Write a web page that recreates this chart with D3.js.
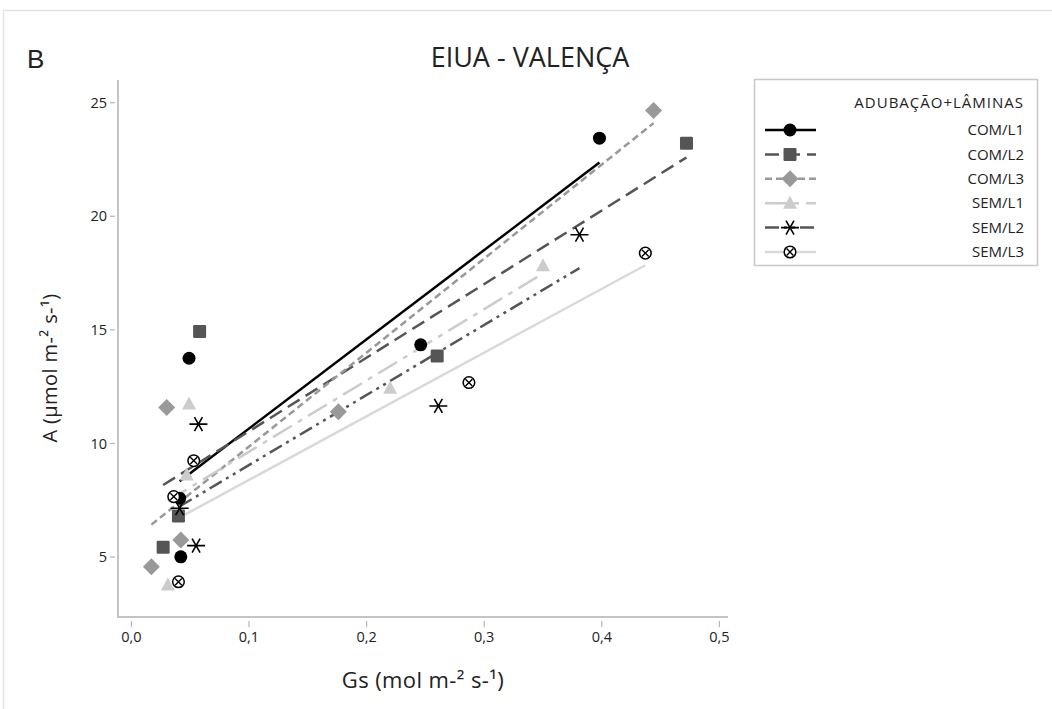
<!DOCTYPE html>
<html lang="pt">
<head>
<meta charset="utf-8">
<title>EIUA - VALENÇA</title>
<style>
body { margin: 0; background: #fff; }
text { font-family: "Open Sans", "Noto Sans", sans-serif; fill: #222; }
</style>
<script src="https://cdn.jsdelivr.net/npm/d3@7"></script>
</head>
<body>
<div id="chart"></div>
<script>
// Gs (x) and A (y) per treatment
var seriesNames = ["COM/L1", "COM/L2", "COM/L3", "SEM/L1", "SEM/L2", "SEM/L3"];

var gs_com_l1 = [0.049, 0.041, 0.042, 0.246, 0.398];
var a_com_l1  = [13.75, 7.59, 5.01, 14.34, 23.44];

var gs_com_l2 = [0.058, 0.040, 0.027, 0.260, 0.472];
var a_com_l2  = [14.93, 6.81, 5.43, 13.85, 23.22];

var gs_com_l3 = [0.030, 0.042, 0.017, 0.176, 0.444];
var a_com_l3  = [11.58, 5.75, 4.57, 11.40, 24.66];

var gs_sem_l1 = [0.049, 0.047, 0.031, 0.220, 0.350];
var a_sem_l1  = [11.74, 8.61, 3.77, 12.43, 17.82];

var gs_sem_l2 = [0.057, 0.041, 0.055, 0.261, 0.381];
var a_sem_l2  = [10.85, 7.15, 5.50, 11.65, 19.19];

var gs_sem_l3 = [0.053, 0.036, 0.040, 0.287, 0.437];
var a_sem_l3  = [9.24, 7.66, 3.91, 12.68, 18.38];

var xTicks = [0, 0.1, 0.2, 0.3, 0.4, 0.5];
var yTicks = [5, 10, 15, 20, 25];

// styles per series (same order as seriesNames)
var lineColors  = ["#000", "#555", "#999", "#ccc", "#555", "#d9d9d9"];
var markColors  = ["#000", "#555", "#999", "#ccc", "#000", "#000"];
var dashes      = [null, "14,7", "7,4", "22,7,5,7", "14,5,3,5,3,5", null];
var shapes      = ["circle", "square", "diamond", "triangle", "asterisk", "circlex"];

var series = seriesNames.map(function(name, i) {
    var gs = [gs_com_l1, gs_com_l2, gs_com_l3, gs_sem_l1, gs_sem_l2, gs_sem_l3][i];
    var a  = [a_com_l1, a_com_l2, a_com_l3, a_sem_l1, a_sem_l2, a_sem_l3][i];
    return {
        name: name, idx: i,
        points: gs.map(function(g, j) { return { x: g, y: a[j] }; })
    };
});

// least squares fit, drawn over the x range of each group
function fitLine(pts) {
    var mx = d3.mean(pts, function(p) { return p.x; }),
        my = d3.mean(pts, function(p) { return p.y; });
    var sxy = d3.sum(pts, function(p) { return (p.x - mx) * (p.y - my); }),
        sxx = d3.sum(pts, function(p) { return (p.x - mx) * (p.x - mx); });
    var b = sxy / sxx, a0 = my - b * mx;
    var x0 = d3.min(pts, function(p) { return p.x; }),
        x1 = d3.max(pts, function(p) { return p.x; });
    return [{ x: x0, y: a0 + b * x0 }, { x: x1, y: a0 + b * x1 }];
}

var width = 1052, height = 709;
var svg = d3.select("#chart").append("svg")
    .attr("width", width)
    .attr("height", height);

// outer frame
svg.append("rect")
    .attr("x", 3.5).attr("y", 10.5)
    .attr("width", 1060).attr("height", 720)
    .style("fill", "none").style("stroke", "#e3e3e3").style("stroke-width", 1.5);

var x = d3.scaleLinear().domain([-0.0114, 0.5073]).range([118, 728]);
var y = d3.scaleLinear().domain([2.36, 26.0]).range([617, 80]);

var comma = d3.formatLocale({ decimal: ",", thousands: ".", grouping: [3], currency: ["", ""] });
var fmtX = comma.format(".1f");

// axis lines
svg.append("line")
    .attr("x1", 118).attr("y1", 80).attr("x2", 118).attr("y2", 617)
    .style("stroke", "#c4c4c4").style("stroke-width", 2);
svg.append("line")
    .attr("x1", 117).attr("y1", 617).attr("x2", 728).attr("y2", 617)
    .style("stroke", "#c4c4c4").style("stroke-width", 2);

// y ticks
var yg = svg.append("g");
yg.selectAll("line").data(yTicks).enter().append("line")
    .attr("x1", 110).attr("x2", 115)
    .attr("y1", function(d) { return y(d); })
    .attr("y2", function(d) { return y(d); })
    .style("stroke", "#b5b5b5").style("stroke-width", 1.2);
yg.selectAll("text").data(yTicks).enter().append("text")
    .attr("x", 107)
    .attr("y", function(d) { return y(d); })
    .attr("dy", "0.35em")
    .attr("text-anchor", "end")
    .style("font-size", "14.5px")
    .text(function(d) { return d; });

// x ticks
var xg = svg.append("g");
xg.selectAll("line").data(xTicks).enter().append("line")
    .attr("x1", function(d) { return x(d); })
    .attr("x2", function(d) { return x(d); })
    .attr("y1", 621).attr("y2", 627)
    .style("stroke", "#b5b5b5").style("stroke-width", 1.2);
xg.selectAll("text").data(xTicks).enter().append("text")
    .attr("x", function(d) { return x(d); })
    .attr("y", 642)
    .attr("text-anchor", "middle")
    .style("font-size", "14.5px")
    .text(function(d) { return fmtX(d); });

// axis titles
svg.append("text")
    .attr("x", 423).attr("y", 688)
    .attr("text-anchor", "middle")
    .style("font-size", "22px")
    .style("letter-spacing", "0.4px")
    .text("Gs (mol m-² s-¹)");
svg.append("text")
    .attr("transform", "translate(57,368) rotate(-90)")
    .attr("text-anchor", "middle")
    .style("font-size", "20px")
    .style("letter-spacing", "0.4px")
    .text("A (µmol m-² s-¹)");

// chart title and panel letter
svg.append("text")
    .attr("x", 530).attr("y", 67)
    .attr("text-anchor", "middle")
    .style("font-size", "27px")
    .text("EIUA - VALENÇA");
svg.append("text")
    .attr("x", 27).attr("y", 68)
    .style("font-family", "Liberation Sans, Arial, sans-serif")
    .style("font-size", "26px")
    .text("B");

// fit lines
var lineGen = d3.line()
    .x(function(d) { return x(d.x); })
    .y(function(d) { return y(d.y); });

svg.append("g").selectAll("path")
    .data(series).enter().append("path")
    .attr("d", function(s) { return lineGen(fitLine(s.points)); })
    .style("fill", "none")
    .style("stroke", function(s) { return lineColors[s.idx]; })
    .style("stroke-width", 2.5)
    .style("stroke-dasharray", function(s) { return dashes[s.idx]; });

// marker drawing
function drawMarker(g, shape, color) {
    if (shape === "circle") {
        g.append("circle").attr("r", 6.5).style("fill", color);
    } else if (shape === "square") {
        g.append("rect").attr("x", -6.5).attr("y", -6.5).attr("width", 13).attr("height", 13)
            .attr("rx", 1.2).style("fill", color);
    } else if (shape === "diamond") {
        g.append("path").attr("d", "M0,-8.5L8.5,0L0,8.5L-8.5,0Z").style("fill", color);
    } else if (shape === "triangle") {
        g.append("path").attr("d", "M0,-7.5L7,5.5L-7,5.5Z").style("fill", color);
    } else if (shape === "asterisk") {
        g.append("path").attr("d", "M-9,0H9M-4,-7L4,7M4,-7L-4,7")
            .style("fill", "none").style("stroke", color).style("stroke-width", 1.6);
    } else if (shape === "circlex") {
        g.append("circle").attr("r", 5.8)
            .style("fill", "#fff").style("stroke", color).style("stroke-width", 1.5);
        g.append("path").attr("d", "M-3.4,-3.4L3.4,3.4M3.4,-3.4L-3.4,3.4")
            .style("fill", "none").style("stroke", color).style("stroke-width", 1.4);
    }
}

series.forEach(function(s) {
    svg.append("g").selectAll("g")
        .data(s.points).enter().append("g")
        .attr("transform", function(d) { return "translate(" + x(d.x) + "," + y(d.y) + ")"; })
        .each(function() { drawMarker(d3.select(this), shapes[s.idx], markColors[s.idx]); });
});

// legend
var leg = svg.append("g");
leg.append("rect")
    .attr("x", 754.5).attr("y", 79.5)
    .attr("width", 283).attr("height", 186)
    .style("fill", "#fff").style("stroke", "#c8c8c8").style("stroke-width", 1.5);
leg.append("text")
    .attr("x", 1024).attr("y", 108)
    .attr("text-anchor", "end")
    .style("font-size", "15px")
    .style("letter-spacing", "1px")
    .text("ADUBAÇÃO+LÂMINAS");

var items = leg.selectAll("g.item")
    .data(series).enter().append("g")
    .attr("class", "item")
    .attr("transform", function(s, i) { return "translate(0," + (130 + i * 24.4) + ")"; });
items.append("line")
    .attr("x1", 765).attr("x2", 816).attr("y1", 0).attr("y2", 0)
    .style("stroke", function(s) { return lineColors[s.idx]; })
    .style("stroke-width", 2.5)
    .style("stroke-dasharray", function(s) { return s.idx === 0 || s.idx === 5 ? null : dashes[s.idx]; });
items.append("g")
    .attr("transform", "translate(790,0)")
    .each(function(s) { drawMarker(d3.select(this), shapes[s.idx], markColors[s.idx]); });
items.append("text")
    .attr("x", 1024).attr("y", 0)
    .attr("dy", "0.35em")
    .attr("text-anchor", "end")
    .style("font-size", "15px")
    .text(function(s) { return s.name; });
</script>
</body>
</html>
